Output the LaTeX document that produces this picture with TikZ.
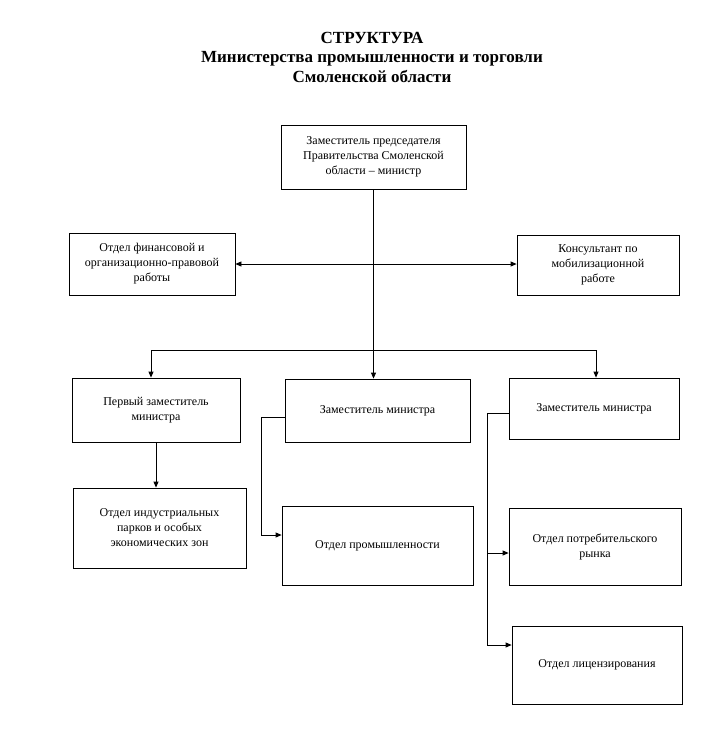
\documentclass[tikz,border=0pt]{standalone}
\usepackage{fontspec}
\setmainfont{Liberation Serif}
\usetikzlibrary{arrows.meta}
\begin{document}
\begin{tikzpicture}[x=1pt,y=-1pt,
  box/.style={draw, line width=0.8pt, inner sep=0pt, align=center,
    font=\fontsize{12}{15}\selectfont},
  arr/.style={line width=0.8pt, -{Triangle[length=6pt,width=5pt]}},
  arrtwo/.style={line width=0.8pt, {Triangle[length=6pt,width=5pt]}-{Triangle[length=6pt,width=5pt]}},
  ln/.style={line width=0.8pt}]
\useasboundingbox (0,0) rectangle (717,745);
\node[font=\bfseries\fontsize{17}{19.5}\selectfont, align=center] (title) at (372,57)
  {СТРУКТУРА\\Министерства промышленности и торговли\\Смоленской области};
\node[box, minimum width=185pt, minimum height=64pt] (top) at (373.5,157) {Заместитель председателя\\Правительства Смоленской\\области – министр};
\node[box, minimum width=166pt, minimum height=62pt] (fin) at (152,264) {Отдел финансовой и\\организационно-правовой\\работы};
\node[box, minimum width=162pt, minimum height=60pt] (kons) at (598,265) {Консультант по\\мобилизационной\\работе};
\node[box, minimum width=168pt, minimum height=64pt] (perv) at (156,410) {Первый заместитель\\министра};
\node[box, minimum width=185pt, minimum height=63pt] (zam1) at (377.5,410.5) {Заместитель министра};
\node[box, minimum width=170pt, minimum height=61pt] (zam2) at (594,408.5) {Заместитель министра};
\node[box, minimum width=173pt, minimum height=80pt] (ind) at (159.5,528) {Отдел индустриальных\\парков и особых\\экономических зон};
\node[box, minimum width=191pt, minimum height=79pt] (prom) at (377.5,545.5) {Отдел промышленности};
\node[box, minimum width=172pt, minimum height=77pt] (potr) at (595,546.5) {Отдел потребительского\\рынка};
\node[box, minimum width=170pt, minimum height=78pt] (lic) at (597,665) {Отдел лицензирования};
% connectors
\draw[arr] (top.south) -- (top.south |- zam1.north);
\draw[arrtwo] (fin.east) -- (fin.east -| kons.west);
\coordinate (bl) at (151,350);
\coordinate (br) at (596,350);
\draw[ln] (bl) -- (br);
\draw[arr] (bl) -- (bl |- perv.north);
\draw[arr] (br) -- (br |- zam2.north);
\draw[arr] (perv.south) -- (perv.south |- ind.north);
\coordinate (za) at (261,417);
\coordinate (zb) at (261,535);
\draw[arr] (zam1.west |- za) -- (za) -- (zb) -- (prom.west |- zb);
\coordinate (wa) at (487,413);
\coordinate (wb) at (487,553);
\coordinate (wc) at (487,645);
\draw[ln] (zam2.west |- wa) -- (wa) -- (wc);
\draw[arr] (wb) -- (potr.west |- wb);
\draw[arr] (wc) -- (lic.west |- wc);
\end{tikzpicture}
\end{document}
